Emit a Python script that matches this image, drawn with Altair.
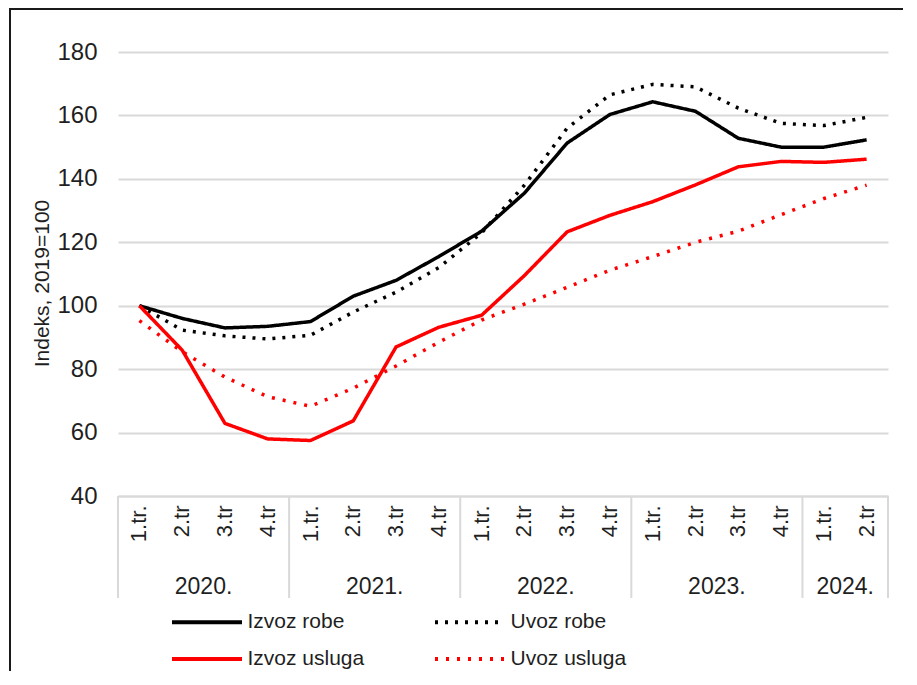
import altair as alt
import pandas as pd

# ---------------- data ----------------
years = ["2020.", "2021.", "2022.", "2023.", "2024."]
quarters_per_year = [4, 4, 4, 4, 2]
quarter_labels = ["1.tr.", "2.tr", "3.tr", "4.tr",
                  "1.tr.", "2.tr", "3.tr", "4.tr",
                  "1.tr.", "2.tr", "3.tr", "4.tr",
                  "1.tr.", "2.tr", "3.tr", "4.tr",
                  "1.tr.", "2.tr"]
series = ["Izvoz robe", "Uvoz robe", "Izvoz usluga", "Uvoz usluga"]

izvoz_robe = [100, 96, 93, 93.5, 95, 103, 108, 115.5, 123.5, 135.5, 151.3, 160.3,
              164.3, 161.3, 152.8, 150, 150, 152.3]
uvoz_robe = [100, 92.3, 90.5, 89.5, 90.7, 98, 104.3, 112, 123, 138, 156, 166.5,
             169.8, 169, 162.3, 157.5, 156.8, 159.4]
izvoz_usluga = [100, 86, 62.9, 58, 57.5, 63.7, 87, 93.2, 97, 109.5, 123.3, 128.5,
                132.8, 138.1, 143.8, 145.5, 145.2, 146.2]
uvoz_usluga = [95.3, 85.5, 77.5, 71.3, 68.3, 74, 81, 88.5, 95.5, 100.5, 105.8, 111.2,
               115.5, 120, 123.5, 128.7, 133.8, 138]

y_ticks = [40, 60, 80, 100, 120, 140, 160, 180]

# ---------------- derived tables ----------------
quarter_keys = []
year_start_idx = []
year_anchor_idx = []
for y, n in zip(years, quarters_per_year):
    year_start_idx.append(len(quarter_keys))
    year_anchor_idx.append(len(quarter_keys) + n // 2 - 1)
    for k in range(n):
        quarter_keys.append(f"{y}{k + 1}")

values_by_series = [izvoz_robe, uvoz_robe, izvoz_usluga, uvoz_usluga]
rows = []
for s, vals in zip(series, values_by_series):
    for q, v in zip(quarter_keys, vals):
        rows.append({"q": q, "series": s, "value": v})
df = pd.DataFrame(rows)

sep_df = pd.DataFrame({"q": [quarter_keys[i] for i in year_start_idx]})
end_df = pd.DataFrame({"q": [quarter_keys[-1]]})
year_df = pd.DataFrame({"q": [quarter_keys[i] for i in year_anchor_idx], "year": years})

FONT = "Liberation Sans"
TXT = "#1f1f1f"
GRID = "#d9d9d9"

label_expr = (
    "[" + ",".join(f"'{l}'" for l in quarter_labels) + "][indexof(["
    + ",".join(f"'{k}'" for k in quarter_keys) + "], datum.value)]"
)

xscale = alt.Scale(type="band", domain=quarter_keys, paddingInner=0, paddingOuter=0)
yscale = alt.Scale(domain=[40, 180])

xaxis = alt.Axis(labelExpr=label_expr, labelAngle=270, labelAlign="right",
                 labelBaseline="middle", labelPadding=9, ticks=False,
                 domain=True, domainColor=GRID, domainWidth=2, grid=False,
                 title=None, labelFontSize=22, labelFont=FONT, labelColor=TXT,
                 labelOverlap=False)

legend = alt.Legend(
    orient="none", legendX=54, legendY=559.5, columns=2, direction="horizontal",
    title=None,
    symbolType="M-5,0H5", symbolSize=196, symbolStrokeWidth=4,
    symbolOffset=24.5, labelOffset=30, columnPadding=62, rowPadding=15,
    labelFontSize=21, labelFont=FONT, labelColor=TXT, labelLimit=0, padding=0,
)

lines = alt.Chart(df).mark_line(strokeWidth=3.5, strokeCap="butt", strokeJoin="round").encode(
    x=alt.X("q:N", scale=xscale, bandPosition=0.5, axis=xaxis),
    y=alt.Y("value:Q", scale=yscale,
            axis=alt.Axis(values=y_ticks, grid=True, gridColor=GRID, gridWidth=2,
                          domain=False, ticks=False, labelFontSize=24, labelFont=FONT,
                          labelColor=TXT, labelPadding=21,
                          title="Indeks, 2019=100", titleFontSize=21, titleFont=FONT,
                          titleColor=TXT, titleFontWeight="normal", titleAngle=270,
                          titleX=-70, titleY=231, titleAlign="center",
                          titleBaseline="alphabetic")),
    color=alt.Color("series:N",
                    scale=alt.Scale(domain=series,
                                    range=["#000000", "#000000", "#ff0000", "#ff0000"]),
                    legend=legend),
    strokeDash=alt.StrokeDash("series:N",
                              scale=alt.Scale(domain=series,
                                              range=[[1, 0], [3, 7], [1, 0], [3, 8]]),
                              legend=legend),
)

seps = alt.Chart(sep_df).mark_rule(color=GRID, strokeWidth=2).encode(
    x=alt.X("q:N", scale=xscale, bandPosition=0, axis=xaxis),
    y=alt.value(444), y2=alt.value(546),
)
end_sep = alt.Chart(end_df).mark_rule(color=GRID, strokeWidth=2).encode(
    x=alt.X("q:N", scale=xscale, bandPosition=1, axis=xaxis),
    y=alt.value(444), y2=alt.value(546),
)
year_text = alt.Chart(year_df).mark_text(
    fontSize=23, font=FONT, color=TXT, align="center", baseline="middle"
).encode(
    x=alt.X("q:N", scale=xscale, bandPosition=1, axis=xaxis),
    y=alt.value(535),
    text="year:N",
)

frame_df = pd.DataFrame({"a": [0]})
left_border = alt.Chart(frame_df).mark_rule(color="#1a1a1a", strokeWidth=2).encode(
    x=alt.value(-108), y=alt.value(-44), y2=alt.value(700)
)
top_border = alt.Chart(frame_df).mark_rule(color="#1a1a1a", strokeWidth=2).encode(
    x=alt.value(-108), x2=alt.value(820), y=alt.value(-43)
)

chart = alt.layer(lines, seps, end_sep, year_text, left_border, top_border).properties(
    width=770, height=444,
    autosize=alt.AutoSizeParams(type="none"),
    padding={"left": 110, "top": 44, "right": 15, "bottom": 175},
).configure_view(stroke=None)

chart.save("out.html", embed_options={"renderer": "svg", "actions": False})
